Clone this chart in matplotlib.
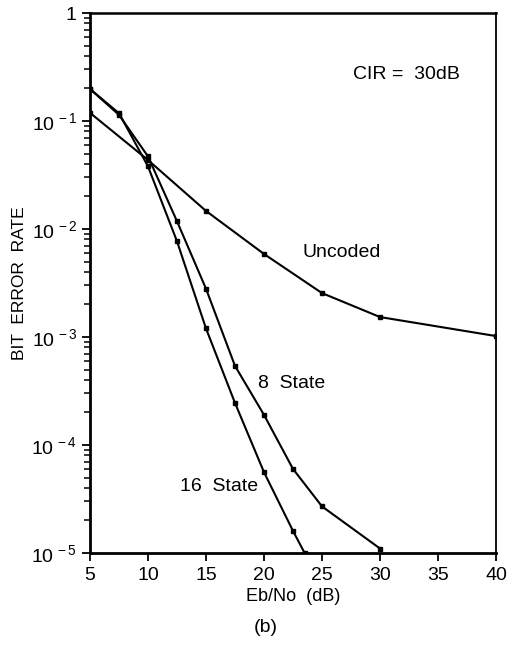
import matplotlib
matplotlib.use("Agg")
import matplotlib.pyplot as plt
from matplotlib.ticker import LogLocator, NullFormatter

plt.rcParams['font.family'] = ['Liberation Sans', 'DejaVu Sans']
plt.rcParams['mathtext.fontset'] = 'custom'
plt.rcParams['mathtext.rm'] = 'Liberation Sans'
plt.rcParams['mathtext.it'] = 'Liberation Sans'

# Data (Eb/No in dB, bit error rate)
uncoded_x = [5, 10, 15, 20, 25, 30, 40]
uncoded_ber = [0.119, 0.0435, 0.0147, 0.00587, 0.00255, 0.00153, 0.00102]

state8_x = [5, 7.5, 10, 12.5, 15, 17.5, 20, 22.5, 25, 30]
state8_ber = [0.198, 0.114, 0.047, 0.0118, 0.0028, 0.00054, 0.00019, 6.0e-5, 2.7e-5, 1.1e-5]

state16_x = [5, 7.5, 10, 12.5, 15, 17.5, 20, 22.5, 23.5]
state16_ber = [0.198, 0.118, 0.038, 0.0077, 0.0012, 0.000245, 5.6e-5, 1.6e-5, 1.0e-5]

xticks = [5, 10, 15, 20, 25, 30, 35, 40]
yticks = [1e-5, 1e-4, 1e-3, 1e-2, 1e-1, 1]
ytick_labels = [r'$10^{\,-5}$', r'$10^{\,-4}$', r'$10^{\,-3}$',
                r'$10^{\,-2}$', r'$10^{\,-1}$', '1']

fig = plt.figure(figsize=(5.13, 6.47), dpi=100)
ax = fig.add_axes([0.1754, 0.1453, 0.7915, 0.8346])

style = dict(color='black', lw=1.5, marker='s', ms=2.8)
ax.plot(uncoded_x, uncoded_ber, **style)
ax.plot(state8_x, state8_ber, **style)
ax.plot(state16_x, state16_ber, **style)

ax.set_yscale('log')
ax.set_xlim(5, 40)
ax.set_ylim(1e-5, 1)
ax.set_xticks(xticks)
ax.set_xticklabels([str(t) for t in xticks])
ax.set_yticks(yticks)
ax.set_yticklabels(ytick_labels)
ax.yaxis.set_minor_locator(LogLocator(base=10, subs=range(2, 10)))
ax.yaxis.set_minor_formatter(NullFormatter())

ax.tick_params(axis='both', which='major', direction='out', length=6, width=1.3,
               labelsize=14, colors='black')
ax.tick_params(axis='y', which='minor', direction='out', length=4, width=1.1)
ax.tick_params(axis='x', pad=4)
for s in ax.spines.values():
    s.set_linewidth(1.3)
ax.spines['bottom'].set_linewidth(2)
ax.spines['left'].set_linewidth(2)
ax.spines['top'].set_linewidth(1.8)

ax.text(27.7, 0.27, 'CIR =  30dB', fontsize=14, va='center', ha='left')
ax.text(23.3, 0.0061, 'Uncoded', fontsize=14, va='center', ha='left')
ax.text(19.5, 3.7e-4, '8  State', fontsize=14, va='center', ha='left')
ax.text(12.8, 4.1e-5, '16  State', fontsize=14, va='center', ha='left')

ax.set_xlabel('Eb/No  (dB)', fontsize=13, labelpad=3)
ax.set_ylabel('BIT  ERROR  RATE', fontsize=12.5)
ax.yaxis.set_label_coords(-0.155, 0.5)
fig.text(0.518, 0.03, '(b)', fontsize=14, ha='center', va='center')

fig.savefig('out.png', dpi=100)
